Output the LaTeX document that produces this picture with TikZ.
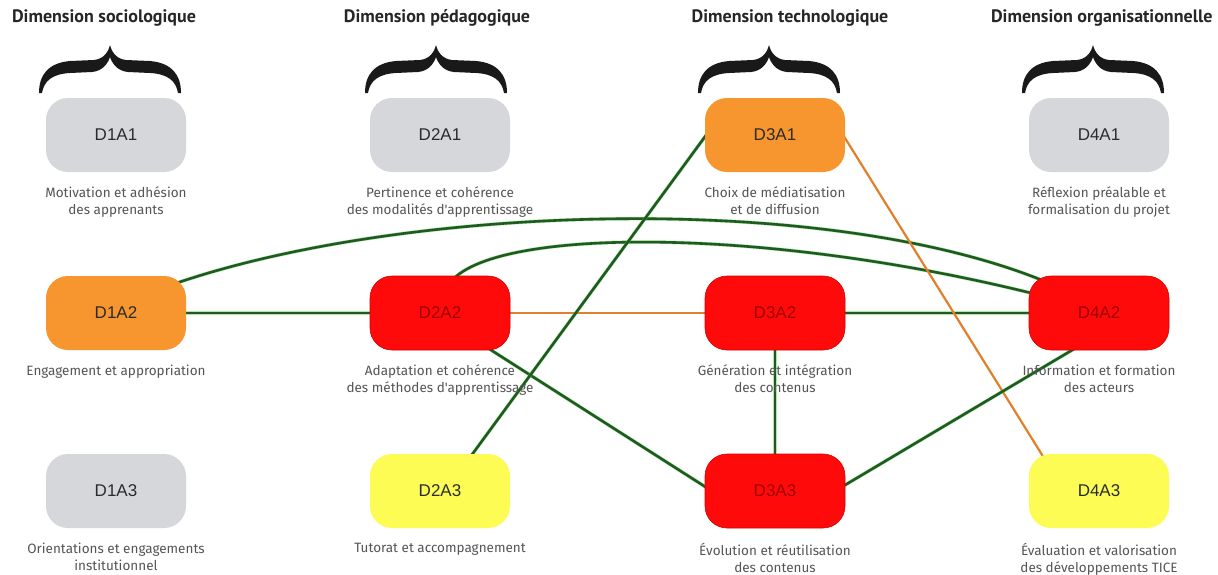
\documentclass[tikz,border=0pt]{standalone}
\usepackage{fontspec}
\setmainfont{PT Sans}
\newfontfamily\boxfont{Liberation Sans}
\newfontfamily\lblfont{Fira Sans}
\usetikzlibrary{calc}
\pgfdeclarelayer{back}
\pgfdeclarelayer{bg}
\pgfsetlayers{back,bg,main}
\definecolor{gfill}{HTML}{D5D7DB}
\definecolor{ofill}{HTML}{F7962F}
\definecolor{rfill}{HTML}{FF0A0A}
\definecolor{yfill}{HTML}{FCFC55}
\definecolor{dtext}{HTML}{2B2B2B}
\definecolor{rtext}{HTML}{A00000}
\definecolor{ltext}{HTML}{555555}
\definecolor{lgreen}{HTML}{1F5A1F}
\definecolor{hgreen}{HTML}{5FCF5F}
\definecolor{lorange}{HTML}{E0802A}
\tikzset{
  box/.style={rounded corners=22pt, minimum width=140pt, minimum height=74pt,
    inner sep=0pt, font=\boxfont\fontsize{17}{20}\selectfont},
  grayb/.style={box, fill=gfill, text=dtext},
  orangeb/.style={box, fill=ofill, text=dtext},
  redb/.style={box, fill=rfill, draw=red!85!black, line width=0.6pt, text=rtext},
  yellowb/.style={box, fill=yfill, text=dtext},
  lbl/.style={font=\lblfont\fontsize{13.5}{17}\selectfont, text=ltext, align=center, anchor=north},
  hdr/.style={font=\bfseries\fontsize{18}{22}\selectfont, text=black!85},
  gline/.style={draw=lgreen, line width=2.6pt, preaction={draw=hgreen, line width=3.6pt, opacity=0.5}},
  oline/.style={draw=lorange, line width=2.2pt},
  curly/.pic={
    \fill[black!90] (-71,48) .. controls (-71,30) and (-62,18) .. (-40,16) -- (-16,15)
      .. controls (-7,14) and (-2,8) .. (0,0)
      .. controls (2,8) and (7,14) .. (16,15) -- (40,16)
      .. controls (62,18) and (71,30) .. (71,48) -- (68,48)
      .. controls (66,36) and (58,29) .. (40,28) -- (18,27)
      .. controls (7,26) and (2,18) .. (0,12)
      .. controls (-2,18) and (-7,26) .. (-18,27) -- (-40,28)
      .. controls (-58,29) and (-66,36) .. (-68,48) -- cycle;
  }
}
\begin{document}
\begin{tikzpicture}[x=1pt,y=-1pt]
\useasboundingbox (0,0) rectangle (1218,574);
\begin{pgfonlayer}{back}
\fill[white] (0,0) rectangle (1218,574);
\end{pgfonlayer}
% headers
\node[hdr] (h1) at (104,18) {Dimension sociologique};
\node[hdr] (h2) at (437,18) {Dimension pédagogique};
\node[hdr] (h3) at (790,18) {Dimension technologique};
\node[hdr, anchor=east] (h4) at (1216,18) {Dimension organisationnelle};
% braces
\pic at (110,45) {curly};
\pic at (436,45) {curly};
\pic at (769,45) {curly};
\pic at (1093,45) {curly};
% nodes
\node[grayb] (d1a1) at (116,135) {D1A1};
\node[orangeb] (d1a2) at (116,313) {D1A2};
\node[grayb] (d1a3) at (116,491) {D1A3};
\node[grayb] (d2a1) at (440,135) {D2A1};
\node[redb] (d2a2) at (440,313) {D2A2};
\node[yellowb] (d2a3) at (440,491) {D2A3};
\node[orangeb] (d3a1) at (775,135) {D3A1};
\node[redb] (d3a2) at (775,313) {D3A2};
\node[redb] (d3a3) at (775,491) {D3A3};
\node[grayb] (d4a1) at (1099,135) {D4A1};
\node[redb] (d4a2) at (1099,313) {D4A2};
\node[yellowb] (d4a3) at (1099,491) {D4A3};
% labels
\node[lbl] (l11) at ($(d1a1.south)+(0,11)$) {Motivation et adhésion\\des apprenants};
\node[lbl] (l12) at ($(d1a2.south)+(0,11)$) {Engagement et appropriation};
\node[lbl] (l13) at ($(d1a3.south)+(0,11)$) {Orientations et engagements\\institutionnel};
\node[lbl] (l21) at ($(d2a1.south)+(0,11)$) {Pertinence et cohérence\\des modalités d'apprentissage};
\node[lbl] (l22) at ($(d2a2.south)+(0,11)$) {Adaptation et cohérence\\des méthodes d'apprentissage};
\node[lbl] (l23) at ($(d2a3.south)+(0,11)$) {Tutorat et accompagnement};
\node[lbl] (l31) at ($(d3a1.south)+(0,11)$) {Choix de médiatisation\\et de diffusion};
\node[lbl] (l32) at ($(d3a2.south)+(0,11)$) {Génération et intégration\\des contenus};
\node[lbl] (l33) at ($(d3a3.south)+(0,11)$) {Évolution et réutilisation\\des contenus};
\node[lbl] (l41) at ($(d4a1.south)+(0,11)$) {Réflexion préalable et\\formalisation du projet};
\node[lbl] (l42) at ($(d4a2.south)+(0,11)$) {Information et formation\\des acteurs};
\node[lbl] (l43) at ($(d4a3.south)+(0,11)$) {Évaluation et valorisation\\des développements TICE};
% connectors
\begin{pgfonlayer}{bg}
\draw[gline] (d1a2) -- (d2a2);
\draw[oline] (d2a2) -- (d3a2);
\draw[gline] (d3a2) -- (d4a2);
\draw[gline] ($(d1a2)+(55,-28)$) .. controls (400,205) and (820,190) .. ($(d4a2)+(-55,-32)$);
\draw[gline] ($(d2a2)+(10,-30)$) .. controls (490,228) and (760,225) .. ($(d4a2)+(-60,-18)$);
\draw[gline] ($(d2a2)+(40,30)$) -- ($(d3a3)+(-60,2)$);
\draw[gline] ($(d2a3)+(20,-20)$) -- ($(d3a1)+(-60,-12)$);
\draw[oline] ($(d3a1)+(65,-5)$) -- ($(d4a3)+(-50,-25)$);
\draw[gline] (d3a2) -- (d3a3);
\draw[gline] ($(d3a3)+(60,0)$) -- ($(d4a2)+(-15,30)$);
\end{pgfonlayer}
\end{tikzpicture}
\end{document}
